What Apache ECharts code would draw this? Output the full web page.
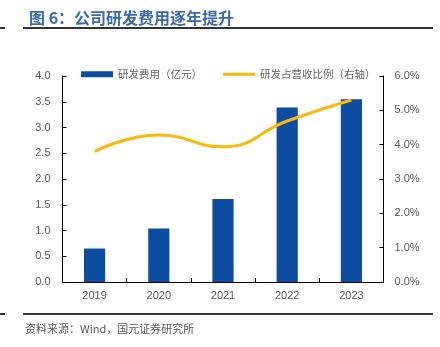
<!DOCTYPE html>
<html>
<head>
<meta charset="utf-8">
<script src="https://cdn.jsdelivr.net/npm/echarts@6/dist/echarts.min.js"></script>
<style>
html,body{margin:0;padding:0;background:#fff;}
#c{width:440px;height:347px;}
</style>
</head>
<body>
<div id="c"></div>
<script>
const categories = ['2019', '2020', '2021', '2022', '2023'];
const rdExpense = [0.65, 1.04, 1.61, 3.39, 3.55];
const rdRatio = [3.80, 4.28, 3.94, 4.69, 5.30];
const seriesNames = ['研发费用（亿元）', '研发占营收比例（右轴）'];
const titleText = '图 6：公司研发费用逐年提升';
const sourceText = '资料来源：Wind，国元证券研究所';

const FONT = '"Liberation Sans", Arial, sans-serif';
const CJK = '"Noto Sans CJK SC", sans-serif';

const chart = echarts.init(document.getElementById('c'), null, {renderer: 'canvas'});
chart.setOption({
  animation: false,
  backgroundColor: '#fff',
  title: {
    text: titleText,
    left: 24, top: 5,
    textStyle: {fontFamily: CJK, fontSize: 16, fontWeight: 'bold', color: '#3a69ad'}
  },
  graphic: [
    {type: 'line', shape: {x1: 23, y1: 28, x2: 433, y2: 28}, style: {stroke: '#333', lineWidth: 2}},
    {type: 'line', shape: {x1: 0, y1: 28, x2: 5, y2: 28}, style: {stroke: '#333', lineWidth: 2}},
    {type: 'line', shape: {x1: 23, y1: 314, x2: 433, y2: 314}, style: {stroke: '#333', lineWidth: 2}},
    {type: 'line', shape: {x1: 0, y1: 314, x2: 5, y2: 314}, style: {stroke: '#333', lineWidth: 2}},
    {type: 'text', left: 25, top: 323, style: {text: sourceText, font: '11px ' + CJK, fill: '#595959'}}
  ],
  legend: {
    left: 76, top: 64,
    itemWidth: 32, itemHeight: 6, itemGap: 21,
    textStyle: {fontFamily: CJK, fontSize: 10.5, color: '#666'},
    data: [
      {name: seriesNames[0], icon: 'rect'},
      {name: seriesNames[1], icon: 'path://M0,0h32v3h-32z'}
    ]
  },
  grid: {left: 62.5, right: 56.5, top: 76, bottom: 65},
  xAxis: {
    type: 'category',
    data: categories,
    axisLine: {lineStyle: {color: '#000', width: 1}},
    axisTick: {show: true, inside: true, length: 4, lineStyle: {color: '#000'}},
    axisLabel: {fontFamily: FONT, fontSize: 11, color: '#595959', margin: 8}
  },
  yAxis: [
    {
      type: 'value', min: 0, max: 4, interval: 0.5,
      axisLine: {show: true, lineStyle: {color: '#000', width: 1}},
      axisTick: {show: true, inside: true, length: 4, lineStyle: {color: '#000'}},
      splitLine: {show: false},
      axisLabel: {fontFamily: FONT, fontSize: 11, color: '#595959', margin: 12,
        formatter: v => v.toFixed(1)}
    },
    {
      type: 'value', min: 0, max: 6, interval: 1,
      axisLine: {show: true, lineStyle: {color: '#000', width: 1}},
      axisTick: {show: true, inside: true, length: 4, lineStyle: {color: '#000'}},
      splitLine: {show: false},
      axisLabel: {fontFamily: FONT, fontSize: 11, color: '#595959', margin: 11,
        formatter: v => v.toFixed(1) + '%'}
    }
  ],
  series: [
    {
      name: seriesNames[0], type: 'bar', data: rdExpense, yAxisIndex: 0,
      barWidth: '33%',
      itemStyle: {color: '#0c4da2'}
    },
    {
      name: seriesNames[1], type: 'line', data: rdRatio, yAxisIndex: 1,
      smooth: 0.5, symbol: 'none',
      lineStyle: {color: '#fbb80a', width: 3},
      itemStyle: {color: '#fbb80a'}
    }
  ]
});
</script>
</body>
</html>
